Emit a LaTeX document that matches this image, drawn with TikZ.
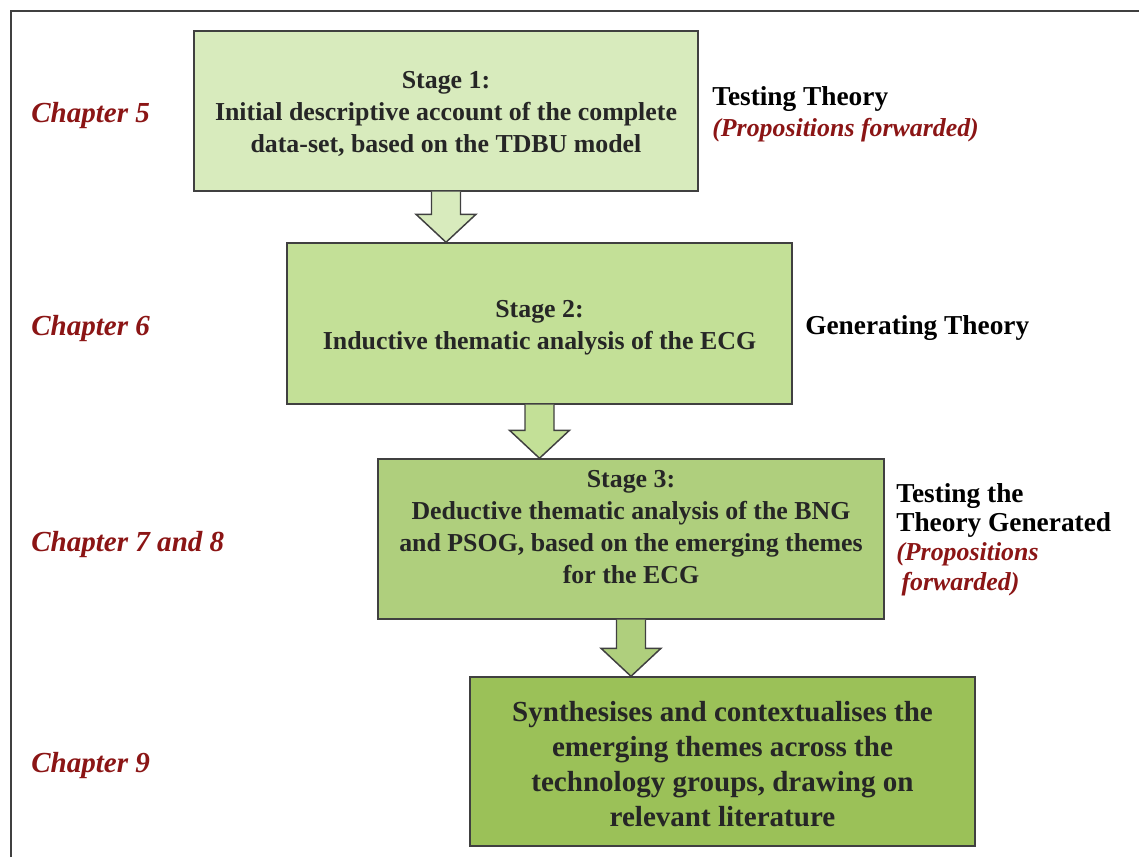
\documentclass[tikz,border=0pt]{standalone}
\usepackage{fontspec}
\setmainfont{Liberation Serif}
\usetikzlibrary{calc}

\definecolor{stageA}{HTML}{D8EBBD}
\definecolor{stageB}{HTML}{C3E097}
\definecolor{stageC}{HTML}{AFCF7D}
\definecolor{stageD}{HTML}{9BC158}
\definecolor{edge}{HTML}{404040}
\definecolor{boxtext}{HTML}{262626}
\definecolor{chapred}{HTML}{8B1515}

% red italic note under a theory label
\newcommand{\propnote}{\color{chapred}\bfseries\itshape\fontsize{19.4}{22}\selectfont}

% block arrow from the bottom of one stage box down to the next one
\newcommand{\blockarrow}[3]{%
  \path let \p1=(#1.south), \p2=(#2.north) in
    coordinate (s1) at (\x1,\y1) coordinate (s2) at (\x1,\y2);
  \draw[arrowbox, fill=#3]
    ($(s1)+(-14.5,0)$) -- ($(s2)+(-14.5,-28)$) -- ($(s2)+(-30,-28)$) --
    (s2) -- ($(s2)+(30,-28)$) -- ($(s2)+(14.5,-28)$) -- ($(s1)+(14.5,0)$);
}

\begin{document}
\begin{tikzpicture}[x=0.75pt,y=-0.75pt,
  stagebox/.style={draw=edge, line width=1.1pt, rectangle, inner sep=0pt},
  stagetext/.style={align=center, text=boxtext, inner sep=0pt,
    font=\bfseries\fontsize{19.4}{24}\selectfont},
  arrowbox/.style={draw=edge, line width=1.1pt, line join=miter},
  chapter/.style={anchor=west, text=chapred, inner sep=0pt,
    font=\bfseries\itshape\fontsize{21.8}{24}\selectfont},
  side/.style={anchor=west, align=left, inner sep=0pt,
    font=\bfseries\fontsize{20.5}{23.5}\selectfont}]
\useasboundingbox (0,0) rectangle (1139,857);

% page frame
\draw[edge, line width=1.4pt] (11,857) -- (11,11) -- (1139,11);

% stage boxes
\node[stagebox, fill=stageA, minimum width=378pt, minimum height=120pt] (b1) at (446,111) {};
\node[stagebox, fill=stageB, minimum width=378.75pt, minimum height=120.75pt] (b2) at (539.5,323.5) {};
\node[stagebox, fill=stageC, minimum width=379.5pt, minimum height=120pt] (b3) at (631,539) {};
\node[stagebox, fill=stageD, minimum width=378.75pt, minimum height=126.75pt] (b4) at (722.5,761.5) {};

% stage texts
\node[stagetext] (t1) at (446,114)
  {Stage 1:\\Initial descriptive account of the complete\\data-set, based on the TDBU model};
\node[stagetext] (t2) at (539.5,328)
  {Stage 2:\\Inductive thematic analysis of the ECG};
\node[stagetext] (t3) at (631,527)
  {Stage 3:\\Deductive thematic analysis of the BNG\\and PSOG, based on the emerging themes\\for the ECG};
\node[stagetext, font=\bfseries\fontsize{21.8}{26.25}\selectfont] (t4) at (722.5,764)
  {Synthesises and contextualises the\\emerging themes across the\\technology groups, drawing on\\relevant literature};

% arrows between the stages
\blockarrow{b1}{b2}{stageA}
\blockarrow{b2}{b3}{stageB}
\blockarrow{b3}{b4}{stageC}

% chapter labels
\node[chapter] (c5) at (31,116) {Chapter 5};
\node[chapter] (c6) at (31,329) {Chapter 6};
\node[chapter] (c7) at (31,545) {Chapter 7 and 8};
\node[chapter] (c9) at (31,766) {Chapter 9};

% theory labels
\node[side] (r1) at (712,114.5) {Testing Theory\\{\propnote (Propositions forwarded)}};
\node[side] (r2) at (805,328) {Generating Theory};
\node[side, font=\bfseries\fontsize{20.5}{22}\selectfont] (r3) at (896,539.5)
  {Testing the\\Theory Generated\\{\propnote (Propositions}\\{\propnote\hspace{4pt}forwarded)}};
\end{tikzpicture}
\end{document}
